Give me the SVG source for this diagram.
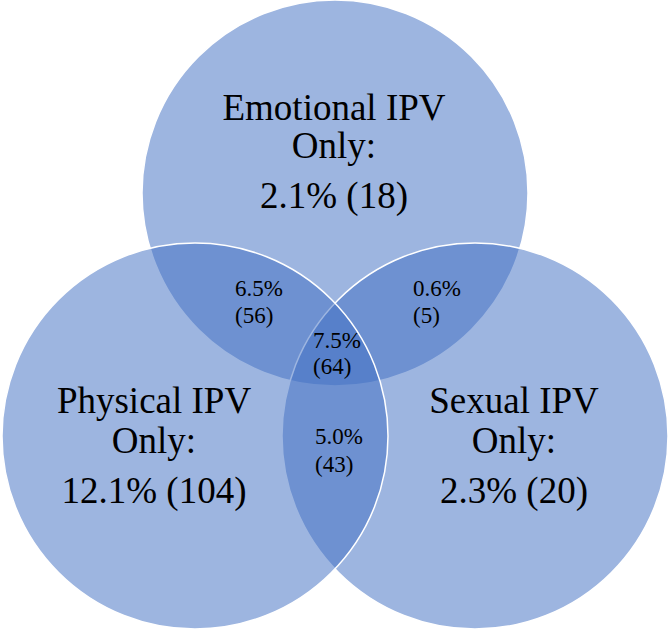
<svg xmlns="http://www.w3.org/2000/svg" width="669" height="631" viewBox="0 0 669 631">
<style>
.c{fill:#4472C4;fill-opacity:0.52;stroke:#FFFFFF;stroke-width:1.5}
.big{font-family:"Liberation Serif","Times New Roman",serif;font-size:37px;fill:#000;text-anchor:middle}
.sm{font-family:"Liberation Serif","Times New Roman",serif;font-size:23px;fill:#000}
</style>
<rect width="669" height="631" fill="#FFFFFF"/>
<g id="emotional">
<circle class="c" cx="335" cy="193" r="193"/>
</g>
<g id="sexual">
<circle class="c" cx="475" cy="436" r="193"/>
</g>
<g id="physical">
<circle class="c" cx="195" cy="436" r="193"/>
</g>
<g id="labels-emotional">
<text class="big" x="334" y="120">Emotional IPV</text>
<text class="big" x="334" y="158">Only:</text>
<text class="big" x="334" y="208">2.1% (18)</text>
</g>
<g id="labels-physical">
<text class="big" x="154" y="413">Physical IPV</text>
<text class="big" x="154" y="453">Only:</text>
<text class="big" x="154" y="503">12.1% (104)</text>
</g>
<g id="labels-sexual">
<text class="big" x="514" y="413">Sexual IPV</text>
<text class="big" x="514" y="453">Only:</text>
<text class="big" x="514" y="503">2.3% (20)</text>
</g>
<g id="overlap-ep">
<text class="sm" x="235" y="296">6.5%</text>
<text class="sm" x="235" y="323">(56)</text>
</g>
<g id="overlap-es">
<text class="sm" x="413" y="296">0.6%</text>
<text class="sm" x="413" y="323">(5)</text>
</g>
<g id="overlap-all">
<text class="sm" x="313" y="348">7.5%</text>
<text class="sm" x="313" y="374">(64)</text>
</g>
<g id="overlap-ps">
<text class="sm" x="315" y="444">5.0%</text>
<text class="sm" x="315" y="472">(43)</text>
</g>
</svg>
